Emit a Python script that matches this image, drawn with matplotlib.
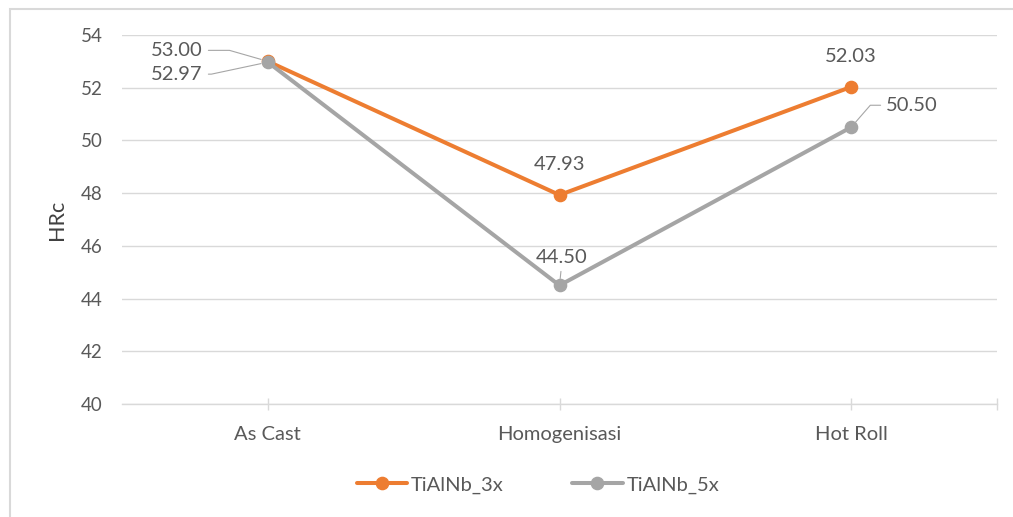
import matplotlib
matplotlib.use("Agg")
import matplotlib.pyplot as plt
from matplotlib.patches import Rectangle
from matplotlib.ticker import FixedLocator

plt.rcParams['font.family'] = ['Lato', 'DejaVu Sans']

categories = ['As Cast', 'Homogenisasi', 'Hot Roll']
tialnb_3x = [53.00, 47.93, 52.03]
tialnb_5x = [52.97, 44.50, 50.50]
y_ticks = [40, 42, 44, 46, 48, 50, 52, 54]

ORANGE = '#ED7D31'
GRAY = '#A5A5A5'
GRID = '#D9D9D9'
TEXT = '#595959'

W, H = 1013, 517
fig = plt.figure(figsize=(W / 100, H / 100), dpi=100)
ax = fig.add_axes([122 / W, 1 - 404 / H, 875 / W, 369 / H])

x = list(range(len(categories)))
ax.plot(x, tialnb_3x, color=ORANGE, lw=2.9, marker='o', ms=8.8,
        solid_capstyle='round', label='TiAlNb_3x', zorder=3)
ax.plot(x, tialnb_5x, color=GRAY, lw=2.9, marker='o', ms=8.8,
        solid_capstyle='round', label='TiAlNb_5x', zorder=4)

ax.set_xlim(-0.5, 2.5)
ax.set_ylim(40, 54)
ax.set_yticks(y_ticks)
ax.set_xticks(x)
ax.set_xticklabels(categories)
ax.xaxis.set_minor_locator(FixedLocator([2.5]))

ax.grid(axis='y', color=GRID, lw=1.0, zorder=0)
for side in ('top', 'right', 'left'):
    ax.spines[side].set_visible(False)
ax.spines['bottom'].set_color(GRID)
ax.spines['bottom'].set_linewidth(1.0)
ax.spines['bottom'].set_zorder(1)

ax.tick_params(axis='y', length=0, pad=14, labelsize=13.5, labelcolor=TEXT)
ax.tick_params(axis='x', which='both', direction='inout', length=8,
               color=GRID, width=1.0, pad=11.5, labelsize=14.5, labelcolor=TEXT)

ax.set_ylabel('HRc', fontsize=15.5, color='#404040', va='center')
ax.yaxis.set_label_coords((57 - 122) / 875, 0.5)

lead = dict(arrowstyle='-', color='#A6A6A6', lw=0.8, shrinkA=2, shrinkB=5)
lbl = dict(textcoords='offset pixels', fontsize=14.5, color=TEXT, va='center')

# TiAlNb_3x labels
ax.annotate(f'{tialnb_3x[0]:.2f}', (0, tialnb_3x[0]), xytext=(-65, 11), ha='right',
            arrowprops=dict(lead, relpos=(1, 0.5),
                            connectionstyle='angle,angleA=0,angleB=-16,rad=0'), **lbl)
ax.annotate(f'{tialnb_3x[1]:.2f}', (1, tialnb_3x[1]), xytext=(0, 30), ha='center', **lbl)
ax.annotate(f'{tialnb_3x[2]:.2f}', (2, tialnb_3x[2]), xytext=(0, 30), ha='center', **lbl)

# TiAlNb_5x labels
ax.annotate(f'{tialnb_5x[0]:.2f}', (0, tialnb_5x[0]), xytext=(-65, -12), ha='right',
            arrowprops=dict(lead, relpos=(1, 0.5),
                            connectionstyle='angle,angleA=0,angleB=12,rad=0'), **lbl)
ax.annotate(f'{tialnb_5x[1]:.2f}', (1, tialnb_5x[1]), xytext=(2, 28), ha='center',
            arrowprops=dict(lead, relpos=(0.5, 0)), **lbl)
ax.annotate(f'{tialnb_5x[2]:.2f}', (2, tialnb_5x[2]), xytext=(35, 22), ha='left',
            arrowprops=dict(lead, relpos=(0, 0.5),
                            connectionstyle='angle,angleA=0,angleB=49,rad=0'), **lbl)

fig.legend(loc='center', bbox_to_anchor=(538 / W, 1 - 485 / H), ncol=2,
           frameon=False, fontsize=14.5, handlelength=2.5, handletextpad=0.2,
           columnspacing=3.4, labelcolor=TEXT)

fig.patches.append(Rectangle((9.5 / W, -0.1), 1.2, 1.1 - 8.5 / H,
                             transform=fig.transFigure, fill=False,
                             ec=GRID, lw=1.5))

fig.savefig('out.png', dpi=100, facecolor='white')
